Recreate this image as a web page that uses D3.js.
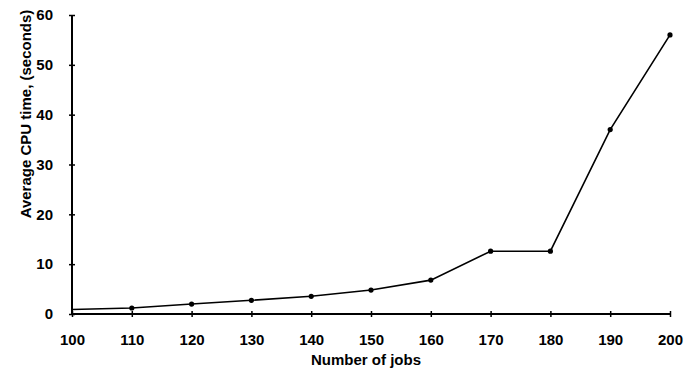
<!DOCTYPE html>
<html>
<head>
<meta charset="utf-8">
<script src="https://cdn.jsdelivr.net/npm/d3@7"></script>
<style>
  body { margin: 0; background: #fff; }
  text { font-family: "Liberation Sans", Arial, sans-serif; font-weight: bold; }
</style>
</head>
<body>
<svg id="chart"></svg>
<script>
// data
const jobs = [100, 110, 120, 130, 140, 150, 160, 170, 180, 190, 200];
const cpuTime = [0.9, 1.2, 2.0, 2.75, 3.55, 4.8, 6.8, 12.6, 12.6, 37, 56];
const showMarker = [false, true, true, true, true, true, true, true, true, true, true];
const xTicks = [100, 110, 120, 130, 140, 150, 160, 170, 180, 190, 200];
const yTicks = [0, 10, 20, 30, 40, 50, 60];

const W = 692, H = 369;
const margin = {top: 15, right: 22, bottom: 55, left: 72};
const width = W - margin.left - margin.right;
const height = H - margin.top - margin.bottom;

const svg = d3.select('#chart').attr('width', W).attr('height', H);
const g = svg.append('g').attr('transform', `translate(${margin.left},${margin.top})`);

const x = d3.scaleLinear().domain([100, 200]).range([0, width]);
const y = d3.scaleLinear().domain([0, 60]).range([height, 0]);

// y axis
const yAxis = g.append('g')
    .call(d3.axisLeft(y).tickValues(yTicks).tickSize(3).tickPadding(16));
yAxis.select('.domain').attr('stroke-width', 2).attr('d', `M0,${height}V0`);
yAxis.selectAll('.tick line').attr('x1', -3).attr('x2', 3).attr('stroke-width', 1.5);
yAxis.selectAll('.tick text').attr('font-size', 15).attr('fill', '#000');

// x axis
const xAxis = g.append('g')
    .attr('transform', `translate(0,${height})`)
    .call(d3.axisBottom(x).tickValues(xTicks).tickSize(3).tickPadding(17));
xAxis.select('.domain').attr('stroke-width', 2).attr('d', `M0,0H${width}`);
xAxis.selectAll('.tick line').attr('y1', -3).attr('y2', 3).attr('stroke-width', 1.5);
xAxis.selectAll('.tick text').attr('font-size', 15).attr('fill', '#000');

const pts = jobs.map((j, i) => ({x: j, y: cpuTime[i], m: showMarker[i]}));

const line = d3.line().x(d => x(d.x)).y(d => y(d.y));
g.append('path')
    .datum(pts)
    .attr('fill', 'none')
    .attr('stroke', '#000')
    .attr('stroke-width', 1.6)
    .attr('d', line);

g.selectAll('circle.pt')
    .data(pts.filter(d => d.m))
    .enter().append('circle')
    .attr('class', 'pt')
    .attr('cx', d => x(d.x))
    .attr('cy', d => y(d.y))
    .attr('r', 2.6)
    .attr('fill', '#000');

// axis titles
svg.append('text')
    .attr('x', 366).attr('y', 365)
    .attr('text-anchor', 'middle')
    .attr('font-size', 15)
    .text('Number of jobs');

svg.append('text')
    .attr('transform', 'translate(31,114) rotate(-90)')
    .attr('text-anchor', 'middle')
    .attr('font-size', 15)
    .text('Average CPU time, (seconds)');
</script>
</body>
</html>
